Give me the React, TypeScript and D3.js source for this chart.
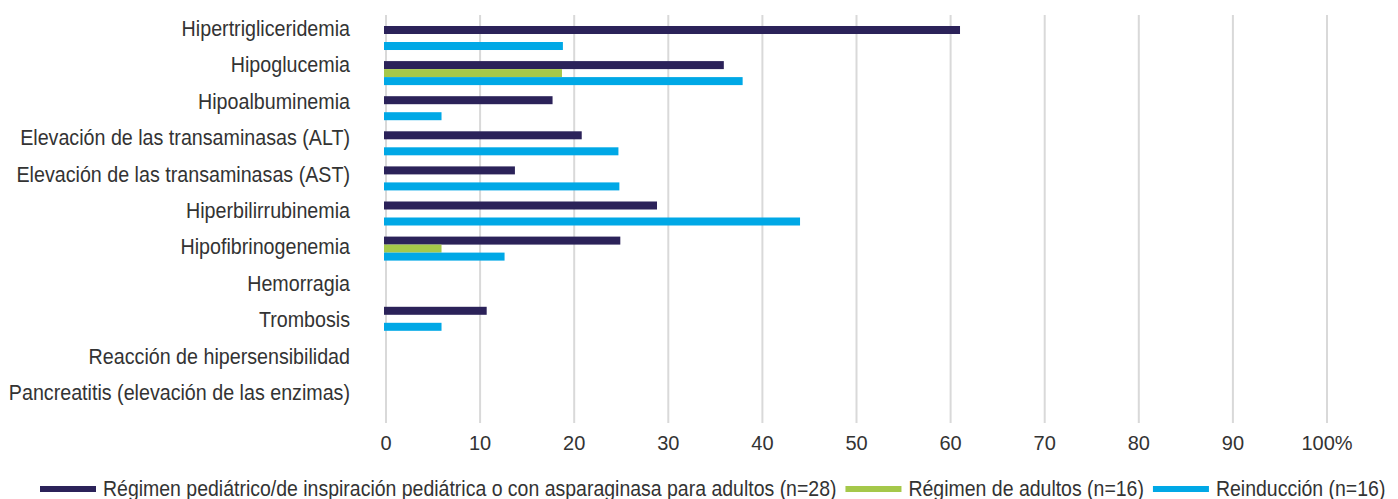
import React, { useEffect, useRef } from 'react'
import * as d3 from 'd3'

const categories = [
  'Hipertrigliceridemia',
  'Hipoglucemia',
  'Hipoalbuminemia',
  'Elevación de las transaminasas (ALT)',
  'Elevación de las transaminasas (AST)',
  'Hiperbilirrubinemia',
  'Hipofibrinogenemia',
  'Hemorragia',
  'Trombosis',
  'Reacción de hipersensibilidad',
  'Pancreatitis (elevación de las enzimas)',
]

const seriesNames = [
  'Régimen pediátrico/de inspiración pediátrica o con asparaginasa para adultos (n=28)',
  'Régimen de adultos (n=16)',
  'Reinducción (n=16)',
]

const pediatricValues = [61, 35.9, 17.7, 20.8, 13.7, 28.8, 24.9, 0, 10.7, 0, 0]
const adultValues = [0, 18.7, 0, 0, 0, 0, 5.9, 0, 0, 0, 0]
const reinductionValues = [18.8, 37.9, 5.9, 24.7, 24.8, 44, 12.6, 0, 5.9, 0, 0]

const xTicks = [0, 10, 20, 30, 40, 50, 60, 70, 80, 90, 100]

const colors = ['#2b2259', '#a5c84a', '#00a8e6']

const W = 1398
const H = 499
const FONT = '"Liberation Sans", Arial, Helvetica, sans-serif'
const SQUEEZE = 0.895
const LEGEND_SQUEEZE = 0.886

export default function App() {
  const ref = useRef<SVGSVGElement>(null)

  useEffect(() => {
    const svg = d3.select(ref.current)
    svg.selectAll('*').remove()

    const series = [pediatricValues, adultValues, reinductionValues]

    // Scales
    const x = d3.scaleLinear().domain([0, 100]).range([386, 1327])
    const y = d3.scaleBand<string>()
      .domain(categories)
      .range([26, 401])
      .paddingInner(0.316)
      .paddingOuter(0)
    const ySub = d3.scaleBand<number>()
      .domain([0, 1, 2])
      .range([0, y.bandwidth()])
    const yLabel = d3.scalePoint<string>().domain(categories).range([36, 400])

    // Gridlines
    svg.append('g')
      .selectAll('line')
      .data(xTicks)
      .join('line')
      .attr('x1', d => x(d))
      .attr('x2', d => x(d))
      .attr('y1', 15)
      .attr('y2', 423)
      .attr('stroke', '#d9d9d9')
      .attr('stroke-width', 2)

    // Tick labels
    svg.append('g')
      .selectAll('text')
      .data(xTicks)
      .join('text')
      .attr('x', d => x(d))
      .attr('y', 450)
      .attr('text-anchor', 'middle')
      .attr('font-family', FONT)
      .attr('font-size', 20)
      .attr('fill', '#333')
      .text(d => (d === 100 ? '100%' : String(d)))

    // Bars
    series.forEach((vals, si) => {
      svg.append('g')
        .selectAll('rect')
        .data(categories.map((c, i) => ({ c, v: vals[i] })).filter(d => d.v > 0))
        .join('rect')
        .attr('x', x(0) - 2)
        .attr('y', d => (y(d.c) as number) + (ySub(si) as number))
        .attr('width', d => x(d.v) - x(0) + 2)
        .attr('height', ySub.bandwidth())
        .attr('fill', colors[si])
    })

    // Category labels
    svg.append('g')
      .selectAll('text')
      .data(categories)
      .join('text')
      .attr('transform', d => `translate(350,${yLabel(d)}) scale(${SQUEEZE},1)`)
      .attr('text-anchor', 'end')
      .attr('font-family', FONT)
      .attr('font-size', 22)
      .attr('fill', '#333')
      .text(d => d)

    // Legend
    const legend = svg.append('g')
    let lx = 40
    seriesNames.forEach((name, i) => {
      legend.append('rect')
        .attr('x', lx)
        .attr('y', 486)
        .attr('width', 56)
        .attr('height', 6)
        .attr('fill', colors[i])
      const t = legend.append('text')
        .attr('transform', `translate(${lx + 63},496) scale(${LEGEND_SQUEEZE},1)`)
        .attr('font-family', FONT)
        .attr('font-size', 22)
        .attr('fill', '#333')
        .text(name)
      const w = (t.node() as SVGTextElement).getComputedTextLength() * LEGEND_SQUEEZE
      lx += 63 + w + 9
    })
  }, [])

  return (
    <svg
      ref={ref}
      width={W}
      height={H}
      style={{ position: 'absolute', left: 0, top: 0, background: '#fff' }}
    />
  )
}
